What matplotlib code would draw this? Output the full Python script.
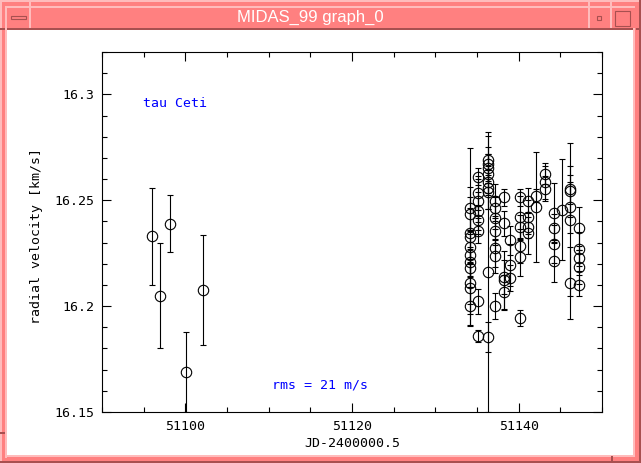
# tau Ceti radial velocities, MIDAS graph window look-alike
import matplotlib
matplotlib.use('Agg')
import matplotlib.pyplot as plt
from matplotlib.patches import Rectangle
from matplotlib.ticker import MultipleLocator, FuncFormatter

# --- data ---
jd = [51096.0, 51097.0, 51098.1, 51100.05, 51102.1,
      51134.1, 51134.1, 51134.1, 51134.1, 51134.1, 51134.1, 51134.1, 51134.1, 51134.1, 51134.1, 51134.1,
      51135.1, 51135.1, 51135.1, 51135.1, 51135.1, 51135.1, 51135.1, 51135.1,
      51136.3, 51136.3, 51136.3, 51136.3, 51136.3, 51136.3, 51136.3, 51136.3, 51136.3,
      51137.2, 51137.2, 51137.2, 51137.2, 51137.2, 51137.2, 51137.2,
      51138.2, 51138.2, 51138.2, 51138.2, 51138.2,
      51139.0, 51139.0, 51139.0,
      51140.1, 51140.1, 51140.1, 51140.1, 51140.1, 51140.1,
      51141.1, 51141.1, 51141.1, 51141.1,
      51142.1, 51142.1,
      51143.2, 51143.2, 51143.2,
      51144.2, 51144.2, 51144.2, 51144.2,
      51145.2,
      51146.2, 51146.2, 51146.2, 51146.2, 51146.2,
      51147.2, 51147.2, 51147.2, 51147.2, 51147.2]
rv = [16.233, 16.205, 16.239, 16.169, 16.2076,
      16.2461, 16.2433, 16.2344, 16.2325, 16.2279, 16.2241, 16.2208, 16.2180, 16.2108, 16.2085, 16.2000,
      16.2611, 16.2536, 16.2498, 16.2451, 16.2409, 16.2357, 16.2023, 16.1859,
      16.2692, 16.2673, 16.2650, 16.2626, 16.2584, 16.2560, 16.2537, 16.2160, 16.1854,
      16.2498, 16.2461, 16.2414, 16.2357, 16.2273, 16.2235, 16.2000,
      16.2513, 16.2391, 16.2137, 16.2122, 16.2066,
      16.2310, 16.2193, 16.2132,
      16.2513, 16.2419, 16.2372, 16.2282, 16.2231, 16.1944,
      16.2498, 16.2419, 16.2372, 16.2344,
      16.2522, 16.2470,
      16.2626, 16.2584, 16.2555,
      16.2442, 16.2367, 16.2292, 16.2212,
      16.2456,
      16.2551, 16.2542, 16.2466, 16.2409, 16.2108,
      16.2367, 16.2268, 16.2226, 16.2183, 16.2099]
rv_err = [0.023, 0.025, 0.0135, 0.019, 0.026,
          0.010, 0.008, 0.012, 0.042, 0.008, 0.010, 0.007, 0.009, 0.010, 0.012, 0.009,
          0.004, 0.008, 0.010, 0.009, 0.007, 0.006, 0.006, 0.003,
          0.011, 0.008, 0.007, 0.009, 0.006, 0.010, 0.008, 0.066, 0.007,
          0.008, 0.006, 0.010, 0.007, 0.009, 0.008, 0.006,
          0.004, 0.006, 0.008, 0.014, 0.008,
          0.007, 0.010, 0.006,
          0.004, 0.010, 0.006, 0.008, 0.009, 0.004,
          0.006, 0.008, 0.005, 0.010,
          0.003, 0.026,
          0.005, 0.008, 0.006,
          0.014, 0.007, 0.009, 0.010,
          0.024,
          0.007, 0.012, 0.012, 0.036, 0.017,
          0.010, 0.008, 0.006, 0.008, 0.005]

star = 'tau Ceti'
rms_text = 'rms = 21 m/s'
win_title = 'MIDAS_99 graph_0'

pink = '#ff8080'
light = '#ffbcbc'
dark = '#a85050'
mono = 'DejaVu Sans Mono'

fig = plt.figure(figsize=(6.41, 4.63), dpi=100)

# window frame drawn in pixel coordinates
bg = fig.add_axes([0, 0, 1, 1])
bg.set_xlim(0, 641)
bg.set_ylim(463, 0)
bg.axis('off')

def box(x, y, w, h, c, **kw):
    bg.add_patch(Rectangle((x, y), w, h, facecolor=c, edgecolor='none', **kw))

box(0, 0, 641, 463, pink)
box(0, 0, 641, 2, light)
box(0, 0, 2, 463, light)
box(639, 0, 2, 463, dark)
box(0, 461, 641, 2, dark)
box(5, 6, 630, 1.5, light)
box(5, 6, 2, 452, light)
box(7, 28, 626, 2, dark)
box(7, 30, 626, 425, 'white')
box(633, 28, 2, 428, light)
box(5, 455, 630, 1.5, light)
# title bar dividers and buttons
for xd in [29, 588, 610]:
    box(xd, 0, 1.5, 28, light)
box(0, 28, 5, 1.5, dark)
box(636, 28, 5, 1.5, dark)
box(0, 432, 5, 1.5, dark)
box(611, 456, 1.5, 7, dark)
bg.add_patch(Rectangle((11, 16), 15, 3, facecolor=pink, edgecolor=dark, lw=0.8))
bg.add_patch(Rectangle((597, 16), 4, 4, facecolor=pink, edgecolor=dark, lw=0.8))
bg.add_patch(Rectangle((615, 11), 15, 14.5, facecolor=pink, edgecolor=dark, lw=0.8))
bg.text(310, 17.5, win_title, color='white', fontsize=12, family='Liberation Sans',
        ha='center', va='center')

# the plot itself
ax = fig.add_axes([102 / 641, (463 - 412) / 463, 500 / 641, 360 / 463])
ax.set_facecolor('none')
ax.errorbar(jd, rv, yerr=rv_err, fmt='o', mfc='none', mec='k', ecolor='k',
            ms=7.5, mew=0.8, elinewidth=0.8, capsize=2.5, capthick=0.8)
ax.set_xlim(51090, 51150)
ax.set_ylim(16.15, 16.32)
ax.xaxis.set_major_locator(MultipleLocator(20))
ax.xaxis.set_minor_locator(MultipleLocator(5))
ax.yaxis.set_major_locator(MultipleLocator(0.05))
ax.yaxis.set_minor_locator(MultipleLocator(0.01))
ax.yaxis.set_major_formatter(FuncFormatter(lambda v, p: '%g' % round(v, 3)))
ax.tick_params(which='both', direction='in', top=True, right=True, width=0.8,
               labelsize=9.5, labelfontfamily=mono, pad=5.5)
ax.tick_params(which='major', length=6.5)
ax.tick_params(which='minor', length=3.6)
for s in ax.spines.values():
    s.set_linewidth(0.8)

ax.set_xlabel('JD-2400000.5', family=mono, fontsize=9.5)
ax.set_ylabel('radial velocity [km/s]', family=mono, fontsize=9.5)
ax.xaxis.set_label_coords(0.5, -0.07)
ax.yaxis.set_label_coords(-0.118, 0.49)

ax.text(0.082, 0.858, star, transform=ax.transAxes, color='#0000ff',
        family=mono, fontsize=9.5, va='center')
ax.text(0.339, 0.075, rms_text, transform=ax.transAxes, color='#0000ff',
        family=mono, fontsize=9.5, va='center')

fig.savefig('out.png', dpi=100)
